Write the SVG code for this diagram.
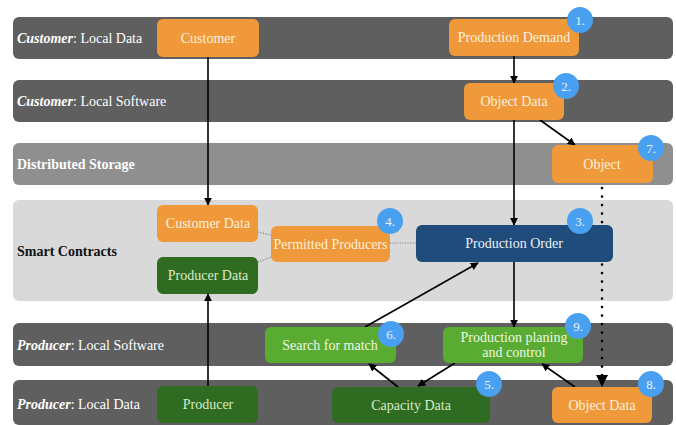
<svg xmlns="http://www.w3.org/2000/svg" width="676" height="425" viewBox="0 0 676 425">
<defs>
<marker id="ah" viewBox="0 0 10 10" refX="9" refY="5" markerWidth="8" markerHeight="8" markerUnits="userSpaceOnUse" orient="auto"><path d="M0,0 L10,5 L0,10 z" fill="#000"/></marker>
<style>
text{font-family:'Liberation Serif','Times New Roman',serif}
.lane{fill:#5f5f5f}
.lbl{font-size:14px;fill:#ffffff}
.nt{font-size:14px;text-anchor:middle}
.or{fill:#f0993b}
.ort{fill:#fdf0dc}
.dg{fill:#2f6b20}
.dgt{fill:#d8ecc8}
.lg{fill:#5aab31}
.lgt{fill:#eef7e4}
.bl{fill:#1f4c7b}
.blt{fill:#eef2f7}
.badge{fill:#4aa0f0}
.bt{font-size:13px;fill:#eaf3fd;text-anchor:middle}
.c{stroke:#000;stroke-width:1.6;fill:none}
.dot{stroke:#000;stroke-width:2.6;fill:none;stroke-linecap:round;stroke-dasharray:0.1 8.4}
.gd{stroke:#777;stroke-width:1.2;fill:none;stroke-dasharray:1 1.5}
</style>
</defs>
<rect width="676" height="425" fill="#ffffff"/>
<g id="lanes">
<rect class="lane" x="13" y="17" width="660" height="42" rx="6"/>
<rect class="lane" x="13" y="80" width="660" height="42" rx="6"/>
<rect x="13" y="143" width="660" height="42" rx="6" fill="#8f8f8f"/>
<rect x="13" y="200" width="660" height="101" rx="6" fill="#d9d9d9"/>
<rect class="lane" x="13" y="323" width="660" height="43" rx="6"/>
<rect class="lane" x="13" y="380" width="660" height="45" rx="6"/>
<text class="lbl" x="17" y="43"><tspan font-weight="bold" font-style="italic">Customer</tspan>: Local Data</text>
<text class="lbl" x="17" y="106"><tspan font-weight="bold" font-style="italic">Customer</tspan>: Local Software</text>
<text class="lbl" x="17" y="169" font-weight="bold">Distributed Storage</text>
<text class="lbl" x="17" y="256" font-weight="bold" style="fill:#111">Smart Contracts</text>
<text class="lbl" x="17" y="350"><tspan font-weight="bold" font-style="italic">Producer</tspan>: Local Software</text>
<text class="lbl" x="17" y="409"><tspan font-weight="bold" font-style="italic">Producer</tspan>: Local Data</text>
</g>
<g id="connectors">
<line class="c" x1="208" y1="57" x2="208" y2="205" marker-end="url(#ah)"/>
<line class="c" x1="514" y1="56" x2="514" y2="83" marker-end="url(#ah)"/>
<line class="c" x1="514" y1="120" x2="514" y2="225" marker-end="url(#ah)"/>
<line class="c" x1="540" y1="120" x2="575" y2="145" marker-end="url(#ah)"/>
<line class="dot" x1="602" y1="188" x2="602" y2="378"/>
<path d="M596,375 L608,375 L602,387 z" fill="#000"/>
<line class="c" x1="514" y1="262" x2="514" y2="327" marker-end="url(#ah)"/>
<line class="c" x1="365" y1="327" x2="478" y2="263" marker-end="url(#ah)"/>
<line class="c" x1="398" y1="387" x2="369" y2="364" marker-end="url(#ah)"/>
<line class="c" x1="455" y1="363" x2="418" y2="386" marker-end="url(#ah)"/>
<line class="c" x1="575" y1="387" x2="542" y2="364" marker-end="url(#ah)"/>
<line class="c" x1="208" y1="386" x2="208" y2="294" marker-end="url(#ah)"/>
<line class="gd" x1="258" y1="232" x2="271" y2="235"/>
<line class="gd" x1="258" y1="262" x2="271" y2="257"/>
<line class="gd" x1="390" y1="243" x2="416" y2="243"/>
</g>
<g id="customer">
<rect class="or" x="157" y="19" width="102" height="38" rx="6"/>
<text class="nt ort" x="208" y="42.5">Customer</text>
</g>
<g id="production-demand">
<rect class="or" x="449" y="19" width="130" height="37" rx="6"/>
<text class="nt ort" x="514" y="42">Production Demand</text>
<circle class="badge" cx="580" cy="20" r="13"/>
<text class="bt" x="580" y="25">1.</text>
</g>
<g id="object-data-customer">
<rect class="or" x="464" y="83" width="100" height="37" rx="6"/>
<text class="nt ort" x="514" y="106">Object Data</text>
<circle class="badge" cx="566" cy="86" r="13"/>
<text class="bt" x="566" y="91">2.</text>
</g>
<g id="object">
<rect class="or" x="552" y="145" width="101" height="38" rx="6"/>
<text class="nt ort" x="602" y="168.5">Object</text>
<circle class="badge" cx="651" cy="148" r="13"/>
<text class="bt" x="651" y="153">7.</text>
</g>
<g id="customer-data">
<rect class="or" x="157" y="205" width="101" height="37" rx="6"/>
<text class="nt ort" x="208" y="228">Customer Data</text>
</g>
<g id="producer-data">
<rect class="dg" x="157" y="257" width="101" height="37" rx="6"/>
<text class="nt dgt" x="208" y="280">Producer Data</text>
</g>
<g id="permitted-producers">
<rect class="or" x="271" y="226" width="119" height="36" rx="6"/>
<text class="nt ort" x="330.5" y="248.5">Permitted Producers</text>
<circle class="badge" cx="390" cy="221" r="13"/>
<text class="bt" x="390" y="226">4.</text>
</g>
<g id="production-order">
<rect class="bl" x="416" y="225" width="197" height="37" rx="6"/>
<text class="nt blt" x="514" y="248">Production Order</text>
<circle class="badge" cx="580" cy="221" r="13"/>
<text class="bt" x="580" y="226">3.</text>
</g>
<g id="search-for-match">
<rect class="lg" x="265" y="327" width="131" height="36" rx="6"/>
<text class="nt lgt" x="330" y="349.5">Search for match</text>
<circle class="badge" cx="391" cy="334" r="13"/>
<text class="bt" x="391" y="339">6.</text>
</g>
<g id="production-planning">
<rect class="lg" x="443" y="327" width="140" height="36" rx="6"/>
<text class="nt lgt" x="514" y="341.5">Production planing</text>
<text class="nt lgt" x="514" y="356.5">and control</text>
<circle class="badge" cx="578" cy="326" r="13"/>
<text class="bt" x="578" y="331">9.</text>
</g>
<g id="producer">
<rect class="dg" x="157" y="386" width="101" height="37" rx="6"/>
<text class="nt dgt" x="208" y="409">Producer</text>
</g>
<g id="capacity-data">
<rect class="dg" x="332" y="387" width="158" height="36" rx="6"/>
<text class="nt dgt" x="411" y="409.5">Capacity Data</text>
<circle class="badge" cx="489" cy="384" r="13"/>
<text class="bt" x="489" y="389">5.</text>
</g>
<g id="object-data-producer">
<rect class="or" x="552" y="387" width="100" height="36" rx="6"/>
<text class="nt ort" x="602" y="409.5">Object Data</text>
<circle class="badge" cx="651" cy="384" r="13"/>
<text class="bt" x="651" y="389">8.</text>
</g>
</svg>
